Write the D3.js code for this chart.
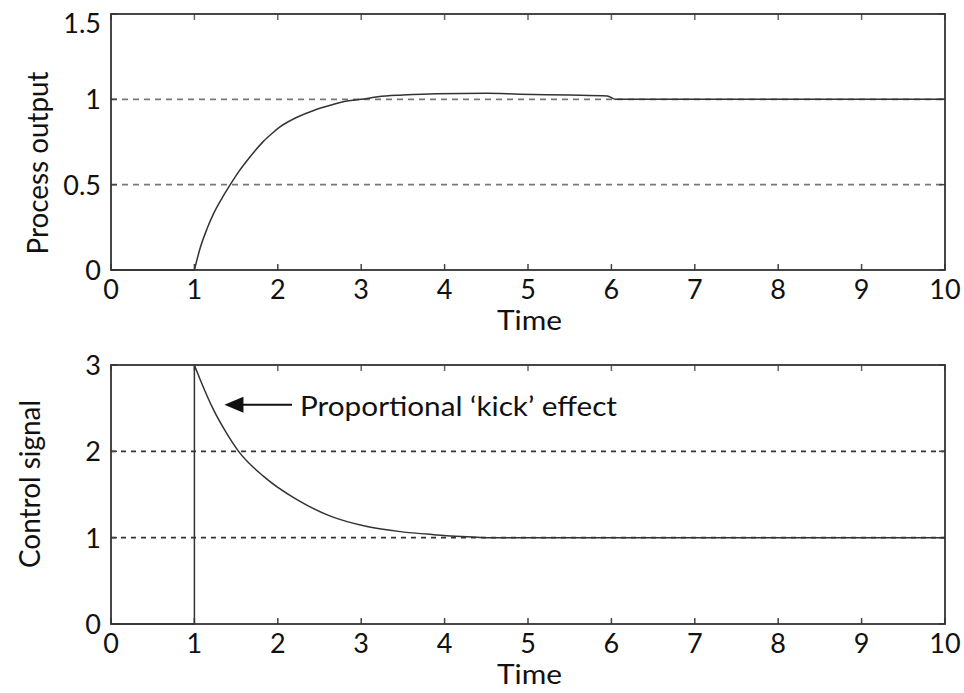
<!DOCTYPE html>
<html>
<head>
<meta charset="utf-8">
<script src="https://cdn.jsdelivr.net/npm/d3@7"></script>
<style>
  body { margin: 0; background: #fff; }
  text { font-family: Lato, "Open Sans", sans-serif; fill: #111; }
</style>
</head>
<body>
<div id="chart"></div>
<script>
'use strict';

// data
const time_ticks = [0, 1, 2, 3, 4, 5, 6, 7, 8, 9, 10]
const output_ticks = [0, 0.5, 1, 1.5]
const output_tick_labels = ['0', '0.5', '1', '1.5']
const control_ticks = [0, 1, 2, 3]
const control_tick_labels = ['0', '1', '2', '3']
const output_grid = [0.5, 1]
const control_grid = [1, 2]

const output_time = [0, 1.0, 1.07, 1.15, 1.23, 1.33, 1.43, 1.53, 1.63, 1.73, 1.83, 1.93, 2.03, 2.23, 2.43, 2.63, 2.83, 3.0, 3.2, 3.5, 3.9, 4.5, 4.9, 5.5, 5.95, 6.05, 7, 8, 9, 10]
const output_values = [0, 0, 0.13, 0.24, 0.33, 0.42, 0.5, 0.575, 0.64, 0.70, 0.755, 0.80, 0.84, 0.895, 0.935, 0.965, 0.99, 1.0, 1.015, 1.025, 1.033, 1.035, 1.03, 1.025, 1.02, 1.0, 1.0, 1.0, 1.0, 1.0]

const control_time = [0, 1, 1, 1.07, 1.23, 1.38, 1.53, 1.83, 2.23, 2.63, 3.07, 3.47, 3.87, 4.27, 4.5, 6, 8, 10]
const control_values = [0, 0, 3, 2.83, 2.48, 2.22, 2.0, 1.71, 1.44, 1.25, 1.13, 1.07, 1.035, 1.01, 1.0, 1.0, 1.0, 1.0]

const kick_label = 'Proportional \u2018kick\u2019 effect'
const kick_tip = [1.36, 2.54]   // where the arrow points (time, value)
const kick_tail = 2.17          // time where arrow line starts

const dimensions = {
  width: 964,
  height: 693,
  left: 111,
  right: 945
}

const svg = d3.select('#chart')
  .append('svg')
  .attr('width', dimensions.width)
  .attr('height', dimensions.height)

const xScale = d3.scaleLinear()
  .domain([0, 10])
  .range([dimensions.left, dimensions.right])

// fit a text element to a width
const fit = (sel, w) => sel.attr('textLength', w).attr('lengthAdjust', 'spacingAndGlyphs')

function draw_panel(p){
  const yScale = d3.scaleLinear()
    .domain(p.domain)
    .range([p.bottom, p.top])

  const g = svg.append('g')

  // dashed grid lines
  g.selectAll('.grid')
    .data(p.grid)
    .join('line')
    .attr('x1', dimensions.left)
    .attr('x2', dimensions.right)
    .attr('y1', d => yScale(d))
    .attr('y2', d => yScale(d))
    .attr('stroke', p.grid_color)
    .attr('stroke-width', 1.6)
    .attr('stroke-dasharray', p.dash)

  // ticks pointing inward on all four sides
  const tl = 6
  g.selectAll('.xtb')
    .data(time_ticks)
    .join('line')
    .attr('x1', d => xScale(d)).attr('x2', d => xScale(d))
    .attr('y1', p.bottom).attr('y2', p.bottom - tl)
    .attr('stroke', '#444').attr('stroke-width', 1.5)
  g.selectAll('.xtt')
    .data(time_ticks)
    .join('line')
    .attr('x1', d => xScale(d)).attr('x2', d => xScale(d))
    .attr('y1', p.top).attr('y2', p.top + tl)
    .attr('stroke', '#666').attr('stroke-width', 1.5)
  g.selectAll('.ytl')
    .data(p.ticks)
    .join('line')
    .attr('x1', dimensions.left).attr('x2', dimensions.left + tl)
    .attr('y1', d => yScale(d)).attr('y2', d => yScale(d))
    .attr('stroke', '#444').attr('stroke-width', 1.5)
  g.selectAll('.ytr')
    .data(p.ticks)
    .join('line')
    .attr('x1', dimensions.right).attr('x2', dimensions.right - tl)
    .attr('y1', d => yScale(d)).attr('y2', d => yScale(d))
    .attr('stroke', '#444').attr('stroke-width', 1.5)

  // the signal: straight up to the corner, smooth after it
  const pts = d3.zip(p.time, p.values)
  const straight = d3.line()
    .x(d => xScale(d[0]))
    .y(d => yScale(d[1]))
  const smooth = d3.line()
    .x(d => xScale(d[0]))
    .y(d => yScale(d[1]))
    .curve(d3.curveMonotoneX)
  g.append('path')
    .attr('fill', 'none')
    .attr('stroke', '#333')
    .attr('stroke-width', 1.5)
    .attr('stroke-linejoin', 'round')
    .attr('d', straight(pts.slice(0, p.corner + 1)) + smooth(pts.slice(p.corner)).replace(/^M/, 'L'))

  // frame
  g.append('rect')
    .attr('x', dimensions.left)
    .attr('y', p.top)
    .attr('width', dimensions.right - dimensions.left)
    .attr('height', p.bottom - p.top)
    .attr('fill', 'none')
    .attr('stroke', '#333')
    .attr('stroke-width', 1.8)

  // tick labels
  g.selectAll('.xlab')
    .data(time_ticks)
    .join('text')
    .attr('x', d => xScale(d))
    .attr('y', p.bottom + p.xlab_dy)
    .attr('text-anchor', 'middle')
    .style('font-size', '27px')
    .text(d => d)
  g.selectAll('.ylab')
    .data(p.ticks)
    .join('text')
    .attr('x', dimensions.left - 10)
    .attr('y', d => Math.max(yScale(d) + 10, p.top + p.top_label_dy))
    .attr('text-anchor', 'end')
    .style('font-size', '27px')
    .text((d, i) => p.tick_labels[i])

  // x title
  fit(g.append('text')
    .attr('x', 497)
    .attr('y', p.x_title_y)
    .style('font-size', '27px')
    .text('Time'), 65)

  // y title
  const yt = g.append('text')
    .attr('transform', `translate(${p.y_title_x}, ${p.y_title_c}) rotate(-90)`)
    .attr('text-anchor', 'middle')
    .style('font-size', '28px')
    .text(p.y_title)
  fit(yt, p.y_title_w)

  return yScale
}

draw_panel({
  top: 14, bottom: 270,
  domain: [0, 1.5],
  ticks: output_ticks,
  tick_labels: output_tick_labels,
  top_label_dy: 19,
  grid: output_grid,
  grid_color: '#777',
  dash: '6,5',
  time: output_time,
  values: output_values,
  corner: 1,
  xlab_dy: 29,
  x_title_y: 330,
  y_title: 'Process output',
  y_title_x: 48,
  y_title_c: 163,
  y_title_w: 183
})

const yControl = draw_panel({
  top: 365, bottom: 624,
  domain: [0, 3],
  ticks: control_ticks,
  tick_labels: control_tick_labels,
  top_label_dy: 10,
  grid: control_grid,
  grid_color: '#333',
  dash: '5,5',
  time: control_time,
  values: control_values,
  corner: 2,
  xlab_dy: 29,
  x_title_y: 684,
  y_title: 'Control signal',
  y_title_x: 40,
  y_title_c: 484,
  y_title_w: 168
})

// annotation arrow + text
const tipX = xScale(kick_tip[0]), tipY = yControl(kick_tip[1])
svg.append('line')
  .attr('x1', xScale(kick_tail)).attr('x2', tipX + 15)
  .attr('y1', tipY).attr('y2', tipY)
  .attr('stroke', '#111').attr('stroke-width', 2)
svg.append('path')
  .attr('d', `M${tipX},${tipY} L${tipX + 19},${tipY - 8} L${tipX + 19},${tipY + 8} Z`)
  .attr('fill', '#111')
fit(svg.append('text')
  .attr('x', 300)
  .attr('y', tipY + 11)
  .style('font-size', '27px')
  .text(kick_label), 317)
</script>
</body>
</html>
